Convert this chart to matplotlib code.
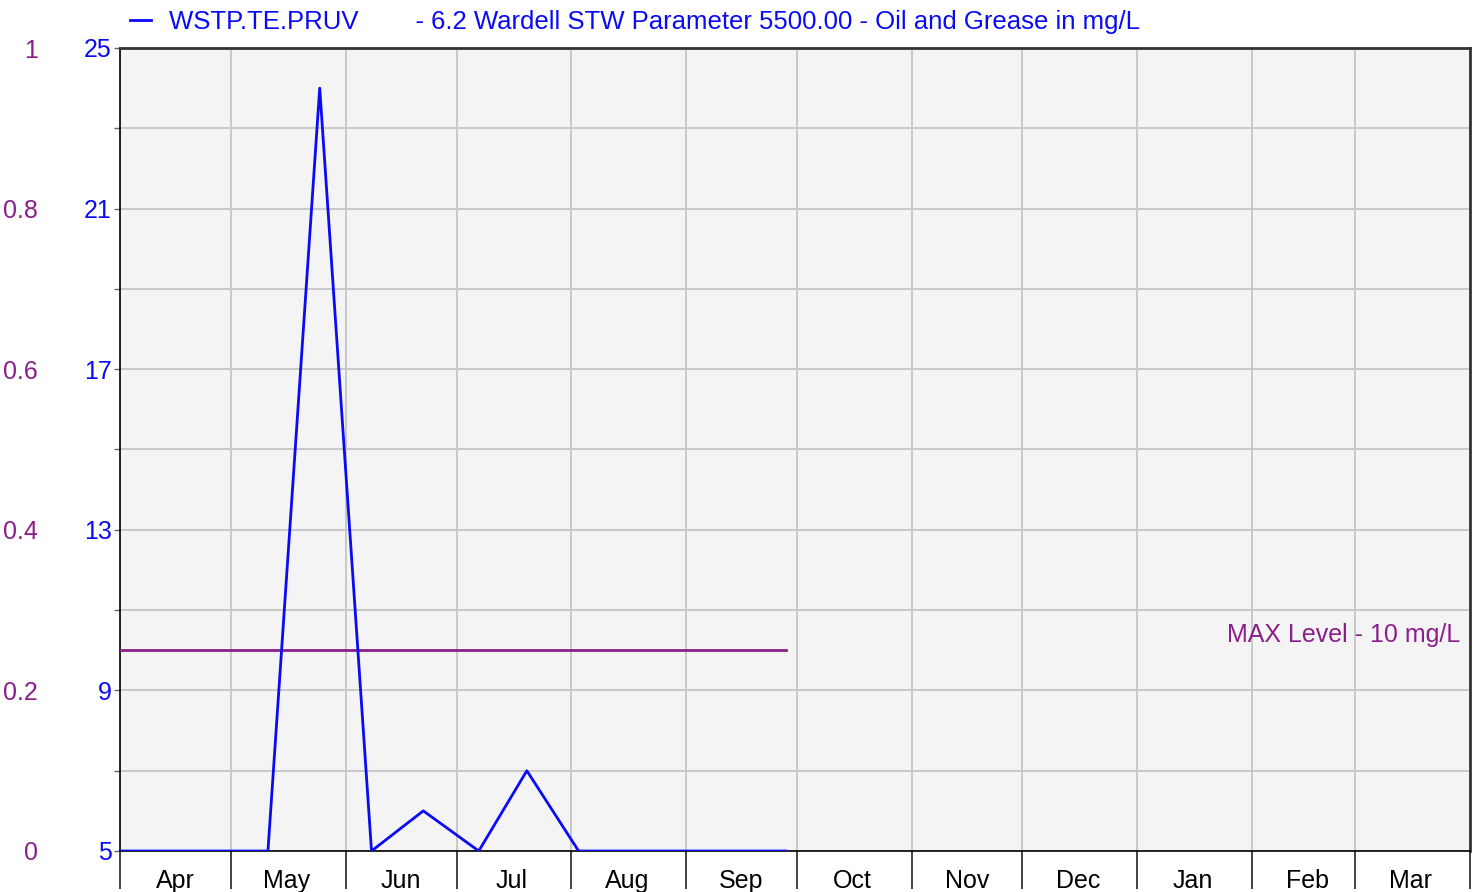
#!/usr/bin/env python3
"""Oil and Grease results for Wardell STW, with the MAX level line"""

from datetime import datetime
import matplotlib
matplotlib.use('Agg')
import matplotlib.pyplot as plt
import matplotlib.dates as mdates
from matplotlib.ticker import FixedLocator

# sample dates and results (mg/L)
sample_dates = ['2022-04-01', '2022-04-13', '2022-04-27', '2022-05-11',
                '2022-05-25', '2022-06-08', '2022-06-22', '2022-07-07',
                '2022-07-20', '2022-08-03', '2022-08-17', '2022-08-31',
                '2022-09-14', '2022-09-28']
oil_grease = [5, 5, 5, 5, 24, 5, 6, 5, 7, 5, 5, 5, 5, 5]

max_level = 10
max_dates = ['2022-04-01', '2022-09-28']

blue_ticks = [5, 9, 13, 17, 21, 25]
blue_minor = [7, 11, 15, 19, 23]
purple_ticks = [0, 0.2, 0.4, 0.6, 0.8, 1]
purple_labels = ['0', '0.2', '0.4', '0.6', '0.8', '1']

BLUE = '#0A0AF5'
PURPLE = '#8A1F8A'

plt.rcParams['font.family'] = ['Liberation Sans', 'DejaVu Sans']


def main():
    dates = [datetime.strptime(d, '%Y-%m-%d') for d in sample_dates]
    mdts = [datetime.strptime(d, '%Y-%m-%d') for d in max_dates]

    fig = plt.figure(figsize=(14.79, 8.92), dpi=100)
    ax = fig.add_axes([120 / 1479, 41 / 892, 1350 / 1479, 803 / 892])
    ax.set_facecolor('#F4F4F4')

    ax.plot(mdts, [max_level, max_level], color=PURPLE, linewidth=2, zorder=3)
    ax.plot(dates, oil_grease, color=BLUE, linewidth=2, zorder=4,
            label='WSTP.TE.PRUV        - 6.2 Wardell STW Parameter 5500.00'
                  ' - Oil and Grease in mg/L')

    ax.set_xlim(datetime(2022, 4, 1), datetime(2023, 4, 1))
    ax.set_ylim(5, 25)

    # month boundaries get long ticks and grid, names sit mid month
    ax.xaxis.set_major_locator(mdates.MonthLocator(bymonthday=1))
    ax.xaxis.set_major_formatter(plt.NullFormatter())
    ax.xaxis.set_minor_locator(mdates.MonthLocator(bymonthday=16))
    ax.xaxis.set_minor_formatter(mdates.DateFormatter('%b'))
    ax.tick_params(axis='x', which='major', length=27, width=1.3,
                   color='#333333', direction='out')
    ax.tick_params(axis='x', which='minor', length=0, pad=13,
                   labelsize=18, labelcolor='black')

    ax.yaxis.set_major_locator(FixedLocator(blue_ticks))
    ax.yaxis.set_minor_locator(FixedLocator(blue_minor))
    ax.tick_params(axis='y', which='both', length=4, width=1,
                   color='#666666', labelcolor=BLUE, labelsize=18, pad=2)

    ax.grid(True, which='major', axis='x', color='#C8C8C8', linewidth=1.4)
    ax.grid(True, which='both', axis='y', color='#C8C8C8', linewidth=1.4)
    ax.set_axisbelow(True)

    for side in ['left', 'bottom']:
        ax.spines[side].set_color('black')
        ax.spines[side].set_linewidth(1.2)
    for side in ['top', 'right']:
        ax.spines[side].set_color('#333333')
        ax.spines[side].set_linewidth(2)

    ax.text(0.993, max_level + 0.2, 'MAX Level - 10 mg/L',
            transform=ax.get_yaxis_transform(), color=PURPLE, fontsize=18,
            ha='right', va='baseline')

    # second scale on the far left
    ax2 = ax.twinx()
    ax2.set_ylim(0, 1)
    ax2.yaxis.tick_left()
    ax2.set_yticks(purple_ticks)
    ax2.set_yticklabels(purple_labels)
    ax2.tick_params(axis='y', length=0, pad=59, labelcolor=PURPLE,
                    labelsize=18)
    for side in ax2.spines:
        ax2.spines[side].set_visible(False)

    leg = ax.legend(loc='lower left', bbox_to_anchor=(130 / 1479, 858 / 892),
                    bbox_transform=fig.transFigure, frameon=False,
                    handlelength=0.8, handletextpad=0.7, fontsize=18.5,
                    borderaxespad=0, borderpad=0)
    for txt in leg.get_texts():
        txt.set_color(BLUE)

    fig.savefig('out.png', dpi=100)
    plt.close(fig)


if __name__ == '__main__':
    main()
